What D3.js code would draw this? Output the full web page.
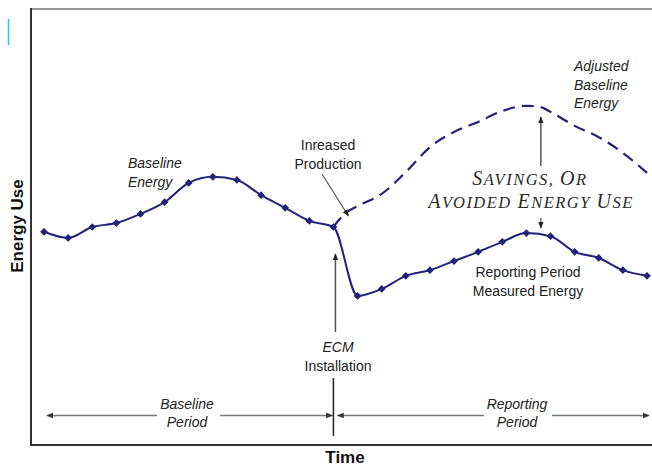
<!DOCTYPE html>
<html>
<head>
<meta charset="utf-8">
<script src="https://cdn.jsdelivr.net/npm/d3@7"></script>
<style>
  body { margin: 0; background: #fff; }
  svg { display: block; font-family: "Liberation Sans", Arial, sans-serif; }
</style>
</head>
<body>
<div id="chart"></div>
<script>
// time steps (0..25), ECM installed at step 12
measuredT = d3.range(0, 26);
measuredEnergy = [48.9, 47.5, 50.0, 50.9, 53.0, 55.7, 60.1, 61.5, 60.8, 57.3, 54.4, 51.4, 50.0,
                  34.2, 35.8, 38.8, 40.1, 42.2, 44.3, 46.6, 48.6, 47.9, 44.3, 42.9, 40.1, 38.8];
adjustedT = [12, 12.5, 13, 14, 15, 16, 17, 18, 19, 20, 20.6, 21, 22, 23, 24, 25];
adjustedEnergy = [50.0, 53.2, 54.8, 57.6, 62.6, 68.3, 71.8, 74.1, 76.6, 77.8, 77.5, 76.4, 73.2, 70.6, 67.0, 62.4];
ecmStep = 12;

width = 652;
height = 466;
frame = ({top: 9, left: 31, bottom: 445, right: 652});
lineColor = "#22227a";
arrowColor = "#555";

const svg = d3.select("#chart").append("svg")
  .attr("width", width)
  .attr("height", height);

const defs = svg.append("defs");
function arrowHead(id, color) {
  defs.append("marker")
    .attr("id", id)
    .attr("viewBox", "0 -5 10 10")
    .attr("refX", 9).attr("refY", 0)
    .attr("markerWidth", 7).attr("markerHeight", 7)
    .attr("markerUnits", "userSpaceOnUse")
    .attr("orient", "auto")
    .append("path")
    .attr("d", "M0,-4L10,0L0,4Z")
    .attr("fill", color);
}
arrowHead("ah", "#222");
arrowHead("ahg", "#333");

var x = d3.scaleLinear().domain([0, 25]).range([44, 647]);
var y = d3.scaleLinear().domain([0, 100]).range([frame.bottom, frame.top]);

// little cyan cursor mark
svg.append("line")
  .attr("x1", 8.5).attr("x2", 8.5).attr("y1", 19).attr("y2", 45)
  .attr("stroke", "#1ec8f0").attr("stroke-width", 1.5);

// frame
svg.append("line")
  .attr("x1", frame.left).attr("x2", frame.right)
  .attr("y1", frame.top).attr("y2", frame.top)
  .attr("stroke", "#999").attr("stroke-width", 2);
svg.append("line")
  .attr("x1", frame.left).attr("x2", frame.left)
  .attr("y1", frame.top - 1).attr("y2", frame.bottom + 1)
  .attr("stroke", "#333").attr("stroke-width", 2);
svg.append("line")
  .attr("x1", frame.left).attr("x2", frame.right)
  .attr("y1", frame.bottom).attr("y2", frame.bottom)
  .attr("stroke", "#333").attr("stroke-width", 2);

// adjusted baseline (dashed)
const line = d3.line()
  .x(d => x(d.t))
  .y(d => y(d.v))
  .curve(d3.curveMonotoneX);

const adjusted = adjustedT.map((t, i) => ({t: t, v: adjustedEnergy[i]}));
svg.append("path")
  .datum(adjusted)
  .attr("d", line)
  .attr("fill", "none")
  .attr("stroke", lineColor)
  .attr("stroke-width", 2.2)
  .attr("stroke-dasharray", "12,7");

// measured energy
const measured = measuredT.map((t, i) => ({t: t, v: measuredEnergy[i]}));
svg.append("path")
  .datum(measured)
  .attr("d", line)
  .attr("fill", "none")
  .attr("stroke", lineColor)
  .attr("stroke-width", 2);

svg.selectAll(".pt")
  .data(measured)
  .join("path")
  .attr("class", "pt")
  .attr("d", d3.symbol().type(d3.symbolSquare).size(30))
  .attr("transform", d => `translate(${x(d.t)},${y(d.v)}) rotate(45)`)
  .attr("fill", lineColor);

// text helpers
function label(lines, cx, cy, opts) {
  const t = svg.append("text")
    .attr("x", cx).attr("y", cy)
    .attr("text-anchor", opts.anchor || "middle")
    .attr("font-size", opts.size || 14)
    .attr("font-style", opts.italic ? "italic" : "normal")
    .attr("font-weight", opts.bold ? "bold" : "normal")
    .attr("fill", opts.color || "#222");
  lines.forEach((s, i) => {
    t.append("tspan").attr("x", cx).attr("dy", i == 0 ? 0 : (opts.lh || 18.5)).text(s);
  });
  return t;
}

label(["Baseline", "Energy"], 128, 168, {italic: true, anchor: "start", lh: 19});
label(["Adjusted", "Baseline", "Energy"], 574, 71, {italic: true, anchor: "start", lh: 18.5});
label(["Inreased", "Production"], 328, 150, {lh: 18.5});
label(["Reporting Period", "Measured Energy"], 528, 277, {lh: 19});
label(["ECM"], 338, 352, {italic: true});
label(["Installation"], 338, 371, {});

// arrow to adjusted baseline start
svg.append("line")
  .attr("x1", 322).attr("y1", 174)
  .attr("x2", x(ecmStep) + 15).attr("y2", y(adjustedEnergy[0]) - 11)
  .attr("stroke", arrowColor).attr("stroke-width", 1.2)
  .attr("marker-end", "url(#ah)");

// ECM installation arrow
svg.append("line")
  .attr("x1", x(ecmStep) + 2).attr("x2", x(ecmStep) + 2)
  .attr("y1", 332).attr("y2", 254)
  .attr("stroke", arrowColor).attr("stroke-width", 1.5)
  .attr("marker-end", "url(#ah)");

// savings annotation
const sx = x(20.6);
svg.append("line")
  .attr("x1", sx).attr("x2", sx)
  .attr("y1", 166).attr("y2", y(77.5) + 10)
  .attr("stroke", arrowColor).attr("stroke-width", 1.5)
  .attr("marker-end", "url(#ah)");
svg.append("line")
  .attr("x1", sx).attr("x2", sx)
  .attr("y1", 218).attr("y2", y(48.4) - 6)
  .attr("stroke", arrowColor).attr("stroke-width", 1.2)
  .attr("marker-end", "url(#ah)");

// small-caps style: bigger first letters
function smallCaps(parts, cx, cy) {
  const t = svg.append("text")
    .attr("x", cx).attr("y", cy)
    .attr("text-anchor", "middle")
    .attr("font-family", "'Liberation Serif', 'DejaVu Serif', serif")
    .attr("font-style", "italic")
    .attr("letter-spacing", 1.5)
    .attr("fill", "#2a2a2a");
  parts.forEach(p => {
    t.append("tspan").attr("font-size", p[1] ? 20 : 16.5).text(p[0]);
  });
}
smallCaps([["S", 1], ["AVINGS, ", 0], ["O", 1], ["R", 0]], 530, 185);
smallCaps([["A", 1], ["VOIDED ", 0], ["E", 1], ["NERGY ", 0], ["U", 1], ["SE", 0]], 531, 207.5);

// period arrows at the bottom
const py = 415.5;
const bx = 187, rx = 517;
function seg(x1, x2, headEnd) {
  svg.append("line")
    .attr("x1", x1).attr("x2", x2).attr("y1", py).attr("y2", py)
    .attr("stroke", "#777").attr("stroke-width", 1.3)
    .attr("marker-end", headEnd ? "url(#ahg)" : null);
}
seg(157, 47, true);
seg(220, x(ecmStep) - 1, true);
seg(484, x(ecmStep) + 4, true);
seg(552, 649, true);

svg.append("line")
  .attr("x1", x(ecmStep)).attr("x2", x(ecmStep))
  .attr("y1", 378).attr("y2", 436)
  .attr("stroke", "#222").attr("stroke-width", 1.5);

label(["Baseline", "Period"], bx, 409, {italic: true, lh: 18});
label(["Reporting", "Period"], rx, 409, {italic: true, lh: 18});

// axis titles
svg.append("text")
  .attr("transform", `translate(23, 226) rotate(-90)`)
  .attr("text-anchor", "middle")
  .attr("font-size", 17)
  .attr("font-weight", "bold")
  .attr("fill", "#111")
  .text("Energy Use");

svg.append("text")
  .attr("x", 345).attr("y", 463)
  .attr("text-anchor", "middle")
  .attr("font-size", 17)
  .attr("font-weight", "bold")
  .attr("fill", "#111")
  .text("Time");
</script>
</body>
</html>
